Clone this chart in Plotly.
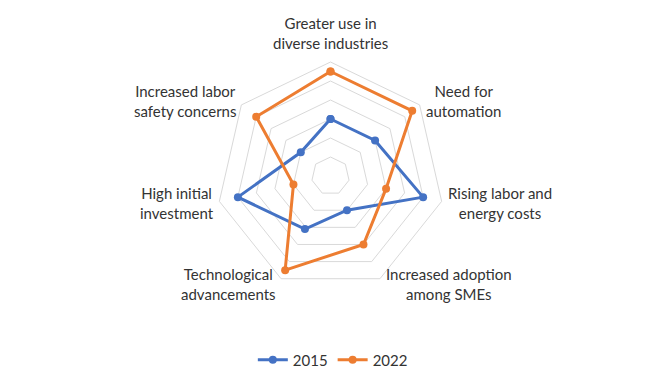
import math
import plotly.graph_objects as go

categories = [
    "Greater use in<br>diverse industries",
    "Need for<br>automation",
    "Rising labor and<br>energy costs",
    "Increased adoption<br>among SMEs",
    "Technological<br>advancements",
    "High initial<br>investment",
    "Increased labor<br>safety concerns",
]
values_2015 = [3, 3, 5, 2, 3.1, 5, 2]
values_2022 = [5.5, 5.5, 3, 4, 5.5, 2, 5]
series_names = ["2015", "2022"]
colors = ["#4472C4", "#ED7D31"]
r_max = 6

fig = go.Figure()
for name, vals, col in zip(series_names, [values_2015, values_2022], colors):
    fig.add_trace(go.Scatterpolar(
        r=vals + vals[:1],
        theta=categories + categories[:1],
        mode="lines+markers",
        name=name,
        line=dict(color=col, width=3),
        marker=dict(color=col, size=8),
    ))

W, H = 667, 390
# polar domain box (figure coordinates)
dcx, dcy, R = 322.5, 168, 114
# centre of the heptagon in figure coordinates
pcx, pcy = 322, 168
text_color = "#333333"

annotations = []
n = len(categories)
for i, lab in enumerate(categories):
    th = 2 * math.pi * i / n
    vx = pcx + R * math.sin(th)
    vy = pcy - R * math.cos(th)
    if i == 0:
        x, y, xa, ya = vx, vy - 8, "center", "bottom"
    else:
        s = math.sin(th)
        xa = "left" if s > 0 else "right"
        x = vx + (5 if s > 0 else -3)
        y = vy - 6 * math.cos(th)
        ya = "middle"
    annotations.append(dict(
        text=lab, x=x / W, y=1 - y / H, xref="paper", yref="paper",
        xanchor=xa, yanchor=ya, align="center", showarrow=False,
        font=dict(family="Lato", size=15, color=text_color),
    ))

fig.update_layout(
    width=W, height=H,
    margin=dict(l=0, r=0, t=0, b=0),
    paper_bgcolor="white",
    plot_bgcolor="white",
    font=dict(family="Lato", size=15, color=text_color),
    polar=dict(
        domain=dict(x=[(dcx - R) / W, (dcx + R) / W], y=[(H - dcy - R) / H, (H - dcy + R) / H]),
        gridshape="linear",
        bgcolor="white",
        radialaxis=dict(range=[0, r_max], dtick=1, showticklabels=False, ticks="",
                        showline=False, gridcolor="#D9D9D9", gridwidth=1),
        angularaxis=dict(rotation=90, direction="clockwise", showgrid=False,
                         showline=True, linecolor="#D9D9D9", linewidth=1,
                         ticks="", showticklabels=False),
    ),
    annotations=annotations,
    legend=dict(orientation="h", x=0.487, xanchor="center", y=(H - 352) / H, yanchor="middle",
                font=dict(size=15, color=text_color)),
)
fig.write_html("out.html")
